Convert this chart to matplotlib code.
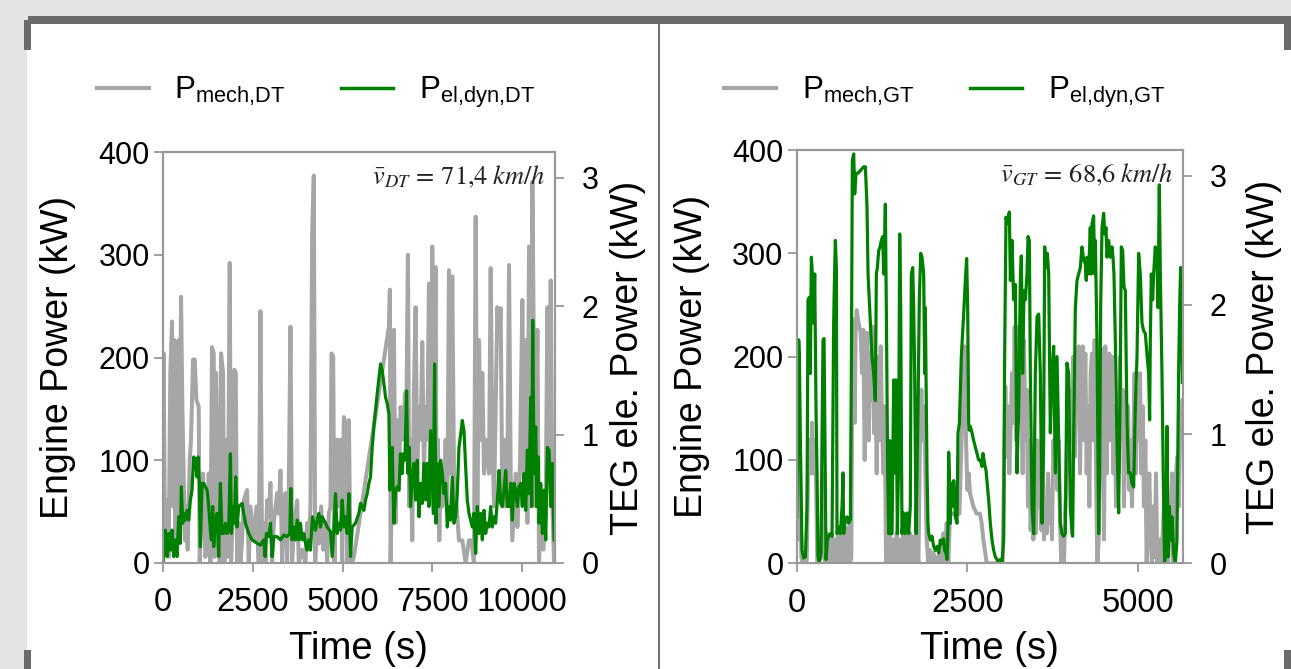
import matplotlib
matplotlib.use('Agg')
import matplotlib.pyplot as plt
from matplotlib.patches import Rectangle
from matplotlib.lines import Line2D

# ---------------- data ----------------
# Drive-cycle DT: engine mechanical power (kW) vs time (s)
dt_mech_pts = [
    (0, 0), (19, 204), (56, 22), (111, 61), (158, 6), (204, 185), (251, 235), (279, 55), (316, 217), (344, 22),
    (390, 185), (437, 217), (464, 39), (502, 259), (539, 152), (576, 87), (613, 22), (650, 55), (687, 13), (743, 100),
    (780, 120), (836, 198), (883, 198), (929, 159), (994, 152), (1022, 0), (1059, 39), (1115, 87), (1180, 6), (1226, 16),
    (1273, 87), (1319, 0), (1366, 210), (1412, 204), (1440, 6), (1477, 185), (1533, 55), (1579, 0), (1616, 204), (1672, 185),
    (1709, 0), (1765, 120), (1802, 6), (1858, 292), (1895, 0), (1951, 55), (1988, 188), (2025, 185), (2062, 0), (2109, 39),
    (2155, 0), (2202, 22), (2248, 61), (2341, 71), (2388, 0), (2434, 55), (2527, 22), (2601, 55), (2666, 0), (2713, 245),
    (2759, 0), (2806, 39), (2852, 0), (2898, 61), (2945, 45), (2991, 78), (3038, 0), (3084, 39), (3177, 68), (3224, 48),
    (3270, 90), (3317, 0), (3363, 55), (3409, 68), (3456, 0), (3502, 71), (3549, 230), (3595, 0), (3642, 32), (3735, 61),
    (3781, 0), (3874, 13), (3967, 0), (4013, 39), (4060, 22), (4106, 55), (4153, 321), (4199, 377), (4236, 0), (4292, 39),
    (4338, 19), (4403, 55), (4459, 13), (4524, 39), (4571, 0), (4617, 48), (4664, 55), (4691, 204), (4738, 201), (4775, 0),
    (4812, 94), (4849, 120), (4896, 55), (4942, 120), (4989, 0), (5035, 142), (5082, 136), (5128, 0), (5175, 139), (5221, 0),
    (5267, 0), (5314, 6), (6290, 230), (6317, 266), (6336, 0), (6382, 87), (6429, 227), (6475, 39), (6522, 139), (6568, 71),
    (6614, 152), (6689, 120), (6735, 165), (6782, 168), (6819, 300), (6856, 55), (6893, 120), (6940, 22), (6986, 168), (7033, 249),
    (7079, 87), (7125, 152), (7172, 120), (7218, 215), (7265, 87), (7311, 152), (7358, 120), (7404, 272), (7450, 87), (7497, 308),
    (7544, 152), (7590, 288), (7618, 55), (7655, 120), (7692, 22), (7729, 87), (7776, 55), (7822, 71), (7869, 120), (7915, 55),
    (7962, 285), (8008, 87), (8054, 279), (8101, 87), (8175, 55), (8240, 22), (8333, 22), (8426, 0), (8519, 22), (8584, 22),
    (8658, 0), (8705, 337), (8751, 39), (8798, 217), (8844, 120), (8891, 185), (8937, 87), (8983, 120), (9076, 87), (9123, 287),
    (9169, 120), (9216, 55), (9309, 249), (9355, 217), (9401, 248), (9448, 55), (9494, 120), (9541, 55), (9587, 87), (9634, 290),
    (9680, 87), (9726, 22), (9773, 55), (9819, 87), (9866, 35), (9940, 97), (10005, 256), (10052, 71), (10098, 217), (10145, 39),
    (10191, 308), (10219, 87), (10256, 55), (10284, 371), (10330, 185), (10377, 55), (10423, 227), (10470, 0), (10516, 55), (10591, 13),
    (10656, 55), (10702, 249), (10749, 87), (10795, 275), (10842, 55), (10888, 0),
]

# Drive-cycle DT: TEG electrical power (kW) vs time (s)
dt_el_pts = [
    (0, 0), (65, 0.256), (111, 0.05), (158, 0.23), (204, 0.10), (251, 0.256), (297, 0.05), (344, 0.18), (390, 0.05), (437, 0.36),
    (483, 0.153), (511, 0.593), (548, 0.31), (576, 0.386), (622, 0.334), (669, 0.41), (715, 0.334), (762, 0.49), (808, 0.567), (855, 0.826),
    (901, 0.80), (948, 0.67), (975, 0.826), (1013, 0.62), (1040, 0.127), (1087, 0.62), (1133, 0.62), (1226, 0.567), (1273, 0.44), (1319, 0.256),
    (1347, 0.18), (1384, 0.44), (1412, 0.127), (1459, 0.334), (1505, 0.386), (1551, 0.05), (1598, 0.62), (1644, 0.23), (1691, 0.23), (1737, 0.31),
    (1784, 0.23), (1830, 0.256), (1877, 0.85), (1904, 0.23), (1951, 0.44), (1988, 0.31), (2025, 0.67), (2062, 0.28), (2109, 0.44), (2202, 0.464),
    (2295, 0.31), (2388, 0.23), (2480, 0.18), (2620, 0.153), (2713, 0.14), (2806, 0.18), (2843, 0.05), (2880, 0.23), (2945, 0.205), (2991, 0.31),
    (3038, 0.05), (3084, 0.205), (3177, 0.205), (3270, 0.18), (3363, 0.218), (3456, 0.205), (3530, 0.23), (3558, 0.58), (3595, 0.18), (3642, 0.28),
    (3688, 0.18), (3735, 0.334), (3781, 0.18), (3827, 0.31), (3874, 0.18), (3920, 0.23), (3967, 0.153), (4013, 0.10), (4060, 0.18), (4106, 0.10),
    (4162, 0.36), (4199, 0.31), (4245, 0.256), (4292, 0.334), (4338, 0.386), (4385, 0.28), (4431, 0.36), (4478, 0.334), (4524, 0.31), (4571, 0.28),
    (4664, 0.244), (4710, 0.05), (4756, 0.256), (4803, 0.54), (4849, 0.23), (4896, 0.31), (4942, 0.256), (4989, 0.49), (5035, 0.28), (5082, 0.36),
    (5128, 0.23), (5175, 0.54), (5221, 0.05), (5267, 0.28), (5360, 0.31), (5453, 0.386), (5500, 0.464), (5546, 0.44), (5593, 0.41), (5639, 0.49),
    (5685, 0.54), (5732, 0.62), (5778, 0.67), (5825, 0.90), (5871, 1.06), (5964, 1.32), (6057, 1.55), (6103, 1.50), (6150, 1.40), (6196, 1.29),
    (6243, 1.24), (6290, 1.16), (6317, 0.567), (6336, 0.645), (6382, 0.90), (6429, 0.31), (6475, 0.567), (6522, 0.593), (6568, 0.567), (6614, 0.85),
    (6660, 0.697), (6689, 0.85), (6735, 0.80), (6782, 1.34), (6819, 0.697), (6856, 0.90), (6893, 0.44), (6940, 0.67), (6986, 0.775), (7033, 0.49),
    (7079, 0.80), (7125, 0.36), (7172, 0.62), (7218, 0.464), (7265, 0.775), (7311, 0.49), (7358, 0.775), (7404, 0.44), (7450, 1.03), (7525, 0.386),
    (7562, 1.55), (7599, 0.31), (7636, 0.775), (7683, 0.44), (7729, 0.80), (7776, 0.697), (7822, 0.54), (7869, 0.62), (7915, 0.28), (7962, 0.44),
    (8008, 0.334), (8054, 0.67), (8101, 0.31), (8147, 0.36), (8194, 0.54), (8240, 0.90), (8287, 1.00), (8333, 1.11), (8380, 1.03), (8426, 0.75),
    (8472, 0.49), (8519, 0.386), (8565, 0.334), (8612, 0.28), (8658, 0.386), (8705, 0.075), (8751, 0.44), (8798, 0.23), (8844, 0.386), (8891, 0.18),
    (8937, 0.41), (8983, 0.23), (9030, 0.31), (9076, 0.28), (9123, 0.44), (9169, 0.28), (9216, 0.36), (9262, 0.31), (9309, 0.49), (9355, 0.72),
    (9401, 0.464), (9448, 0.44), (9494, 0.567), (9541, 0.72), (9587, 0.44), (9634, 0.44), (9680, 0.62), (9726, 0.334), (9773, 0.62), (9819, 0.567),
    (9866, 0.44), (9912, 0.593), (9959, 0.62), (10005, 0.44), (10052, 0.697), (10098, 0.41), (10145, 0.878), (10191, 0.54), (10237, 1.29), (10265, 0.44),
    (10293, 1.89), (10330, 0.697), (10377, 1.06), (10405, 0.44), (10442, 0.826), (10470, 0.31), (10516, 0.62), (10563, 0.23), (10609, 0.567), (10656, 0.18),
    (10702, 0.90), (10749, 0.878), (10795, 0.44), (10842, 0.775), (10888, 0.18),
]

# Drive-cycle GT: engine mechanical power (kW) vs time (s)
gt_mech_pts = [
    (0, 42), (15, 119), (29, 23), (49, 87), (68, 6), (88, 0), (122, 0), (147, 3), (166, 87), (186, 119),
    (205, 87), (225, 136), (244, 87), (264, 119), (283, 81), (303, 0), (362, 6), (381, 87), (401, 71), (420, 0),
    (440, 29), (459, 0), (479, 23), (498, 0), (518, 29), (538, 0), (562, 23), (586, 0), (611, 29), (635, 0),
    (660, 26), (684, 0), (709, 29), (733, 0), (757, 35), (782, 0), (801, 6), (816, 216), (831, 236), (850, 136),
    (865, 229), (880, 245), (899, 236), (919, 229), (938, 223), (958, 184), (977, 226), (997, 100), (1017, 216), (1036, 223),
    (1056, 119), (1075, 203), (1095, 158), (1114, 229), (1134, 126), (1153, 184), (1173, 87), (1192, 200), (1212, 119), (1232, 210),
    (1251, 136), (1271, 87), (1290, 152), (1310, 0), (1329, 29), (1349, 0), (1368, 29), (1393, 0), (1417, 23), (1442, 0),
    (1466, 29), (1491, 0), (1515, 23), (1539, 0), (1564, 29), (1588, 0), (1613, 26), (1637, 0), (1662, 29), (1686, 0),
    (1710, 26), (1735, 0), (1759, 29), (1784, 0), (1808, 119), (1828, 168), (1847, 119), (1867, 152), (1886, 87), (1906, 23),
    (1930, 0), (1955, 13), (1979, 0), (2004, 10), (2028, 0), (2053, 6), (2077, 0), (2101, 13), (2126, 0), (2150, 29),
    (2175, 0), (2199, 39), (2224, 0), (2248, 48), (2385, 48), (2404, 87), (2424, 136), (2444, 184), (2463, 210), (2483, 119),
    (2502, 71), (2522, 87), (2541, 68), (2590, 55), (2639, 48), (2688, 48), (2712, 39), (2737, 23), (2786, 0), (3020, 0),
    (3040, 87), (3059, 171), (3079, 103), (3098, 152), (3118, 87), (3137, 132), (3157, 184), (3177, 136), (3196, 229), (3216, 119),
    (3235, 200), (3255, 229), (3274, 136), (3294, 184), (3313, 87), (3333, 216), (3353, 119), (3372, 168), (3392, 55), (3411, 119),
    (3431, 32), (3450, 103), (3470, 23), (3489, 87), (3509, 29), (3528, 119), (3548, 55), (3568, 87), (3587, 32), (3607, 103),
    (3626, 23), (3646, 55), (3665, 29), (3685, 87), (3704, 39), (3724, 71), (3743, 23), (3763, 119), (3783, 87), (3802, 152),
    (3822, 71), (3841, 119), (3861, 39), (3880, 0), (3900, 23), (3919, 0), (3939, 55), (3958, 87), (3978, 184), (3998, 87),
    (4017, 168), (4037, 119), (4056, 200), (4076, 103), (4095, 184), (4115, 152), (4134, 210), (4154, 87), (4174, 184), (4193, 210),
    (4213, 119), (4232, 203), (4252, 87), (4271, 152), (4291, 55), (4310, 184), (4330, 203), (4350, 119), (4369, 216), (4389, 87),
    (4408, 0), (4428, 23), (4447, 119), (4467, 87), (4486, 207), (4506, 23), (4525, 210), (4545, 87), (4564, 184), (4584, 203),
    (4604, 119), (4623, 200), (4643, 87), (4662, 152), (4682, 55), (4701, 119), (4721, 87), (4740, 200), (4760, 119), (4780, 168),
    (4799, 55), (4819, 119), (4838, 87), (4858, 152), (4877, 71), (4897, 119), (4916, 55), (4936, 119), (4955, 184), (4975, 87),
    (4994, 168), (5014, 119), (5034, 184), (5053, 87), (5073, 152), (5092, 55), (5112, 119), (5131, 0), (5151, 39), (5170, 87),
    (5190, 23), (5210, 0), (5229, 55), (5249, 6), (5268, 87), (5288, 0), (5327, 23), (5346, 0), (5386, 55), (5405, 0),
    (5425, 39), (5444, 0), (5464, 23), (5483, 55), (5503, 87), (5522, 0), (5542, 55), (5562, 87), (5581, 103), (5601, 55),
    (5620, 119), (5640, 152), (5655, 158),
]

# Drive-cycle GT: TEG electrical power (kW) vs time (s)
gt_el_pts = [
    (0, 0.36), (29, 1.73), (39, 1.60), (54, 0.95), (78, 0.10), (103, 0.04), (127, 0.05), (151, 0.44), (166, 2.04), (186, 2.06),
    (200, 1.47), (215, 2.37), (235, 2.19), (249, 1.86), (264, 2.24), (283, 1.21), (298, 0.70), (313, 0.05), (332, 0.01), (357, 0.08),
    (371, 0.95), (386, 1.73), (401, 1.74), (415, 0.95), (430, 0.03), (450, 0.18), (469, 0.21), (494, 0.23), (518, 0.21), (542, 1.86),
    (557, 2.29), (567, 2.50), (582, 2.29), (591, 0.23), (616, 0.28), (640, 0.23), (665, 0.44), (679, 0.70), (689, 0.23), (714, 0.34),
    (738, 0.36), (762, 0.31), (787, 0.34), (801, 1.47), (816, 3.12), (836, 3.17), (850, 2.86), (870, 3.02), (899, 3.02), (933, 3.04),
    (982, 3.07), (1007, 3.07), (1031, 2.76), (1046, 2.24), (1080, 1.86), (1104, 1.60), (1129, 1.47), (1153, 1.26), (1168, 2.24), (1183, 2.29),
    (1202, 2.42), (1222, 2.45), (1241, 2.50), (1261, 2.53), (1276, 2.24), (1300, 2.78), (1315, 1.93), (1334, 0.70), (1349, 0.23), (1363, 0.95),
    (1378, 0.23), (1398, 0.23), (1422, 1.42), (1437, 0.70), (1456, 1.42), (1476, 0.23), (1495, 0.82), (1510, 2.55), (1525, 1.98), (1544, 0.23),
    (1569, 0.39), (1593, 0.23), (1618, 0.39), (1642, 0.23), (1666, 0.44), (1681, 2.24), (1701, 2.29), (1715, 1.98), (1730, 1.47), (1750, 0.23),
    (1779, 1.21), (1798, 2.04), (1818, 2.40), (1838, 2.37), (1862, 2.24), (1877, 1.47), (1886, 1.98), (1901, 1.21), (1911, 0.70), (1925, 0.31),
    (1935, 0.23), (1960, 0.18), (1984, 0.21), (2009, 0.13), (2033, 0.10), (2057, 0.13), (2082, 0.08), (2106, 0.18), (2131, 0.15), (2155, 0.19),
    (2170, 0.10), (2189, 0.08), (2204, 0.03), (2219, 0.28), (2228, 0.86), (2238, 0.70), (2253, 0.31), (2268, 0.62), (2277, 0.44), (2302, 0.64),
    (2316, 0.54), (2326, 0.36), (2351, 0.31), (2365, 1.01), (2385, 1.08), (2414, 1.60), (2448, 1.93), (2473, 2.19), (2492, 2.36), (2507, 1.98),
    (2522, 1.08), (2531, 1.03), (2546, 1.06), (2571, 1.01), (2595, 0.95), (2619, 0.90), (2644, 0.85), (2668, 0.80), (2693, 0.80), (2717, 0.75),
    (2732, 0.85), (2756, 0.77), (2776, 0.72), (2815, 0.49), (2839, 0.31), (2864, 0.18), (2888, 0.10), (2913, 0.05), (2937, 0.03), (2962, 0.0),
    (2986, 0.03), (3010, 0.0), (3035, 0.18), (3049, 1.60), (3069, 2.68), (3089, 2.63), (3118, 2.72), (3133, 2.19), (3157, 2.50), (3181, 2.04),
    (3206, 2.16), (3230, 0.70), (3255, 1.21), (3279, 2.19), (3294, 2.38), (3313, 1.47), (3333, 2.11), (3353, 2.04), (3377, 2.24), (3392, 2.53),
    (3411, 2.50), (3426, 1.47), (3450, 0.44), (3475, 0.23), (3499, 1.47), (3524, 1.91), (3548, 1.93), (3572, 1.47), (3597, 0.31), (3621, 0.95),
    (3636, 2.45), (3655, 2.29), (3675, 2.40), (3695, 2.24), (3719, 1.01), (3743, 1.47), (3768, 1.68), (3792, 0.70), (3817, 1.60), (3841, 0.95),
    (3866, 0.31), (3890, 0.23), (3914, 0.21), (3939, 0.23), (3963, 1.55), (3988, 1.47), (4012, 0.44), (4037, 0.23), (4046, 0.21), (4061, 0.95),
    (4086, 1.98), (4110, 2.19), (4134, 2.24), (4159, 2.29), (4183, 2.45), (4208, 2.35), (4232, 2.32), (4246, 2.19), (4256, 2.37), (4281, 2.24),
    (4305, 2.60), (4320, 2.24), (4330, 2.63), (4354, 2.69), (4369, 2.24), (4379, 2.50), (4403, 1.73), (4428, 0.23), (4442, 0.70), (4457, 1.98),
    (4477, 2.60), (4501, 2.71), (4516, 2.55), (4535, 2.60), (4550, 2.37), (4574, 2.50), (4599, 2.37), (4623, 2.45), (4638, 2.37), (4652, 2.24),
    (4672, 1.73), (4696, 0.95), (4721, 0.39), (4745, 1.47), (4760, 2.45), (4780, 2.42), (4799, 2.14), (4819, 2.11), (4843, 1.08), (4868, 0.70),
    (4892, 0.70), (4916, 0.62), (4941, 0.59), (4965, 1.21), (4990, 1.60), (5014, 2.40), (5038, 2.24), (5063, 1.86), (5087, 1.80), (5112, 1.78),
    (5136, 1.62), (5161, 1.47), (5175, 1.11), (5185, 1.73), (5200, 2.24), (5219, 2.04), (5234, 2.24), (5258, 2.45), (5283, 2.37), (5298, 1.98),
    (5317, 2.93), (5332, 2.24), (5356, 1.47), (5381, 0.44), (5395, 0.0), (5415, 0.18), (5430, 1.06), (5444, 0.05), (5464, 0.44), (5483, 0.18),
    (5503, 0.36), (5527, 0.08), (5552, 0.0), (5576, 0.18), (5600, 1.47), (5615, 1.98), (5630, 2.29), (5640, 1.98), (5655, 1.40),
]

engine_ticks = [0, 100, 200, 300, 400]
teg_ticks = [0, 1, 2, 3]
dt_time_ticks = [0, 2500, 5000, 7500, 10000]
gt_time_ticks = [0, 2500, 5000]
dt_labels = [r'P$_{\mathregular{mech{,}DT}}$', r'P$_{\mathregular{el{,}dyn{,}DT}}$']
gt_labels = [r'P$_{\mathregular{mech{,}GT}}$', r'P$_{\mathregular{el{,}dyn{,}GT}}$']
dt_note = r'$\bar{v}_{DT}\,=\,71{,}4\;km/h$'
gt_note = r'$\bar{v}_{GT}\,=\,68{,}6\;km/h$'

# ---------------- styling ----------------
plt.rcParams['font.family'] = ['Liberation Sans', 'DejaVu Sans']
plt.rcParams['mathtext.fontset'] = 'stix'

W, H = 1291, 669
GRAY = '#a6a6a6'
GREEN = '#008000'
SPINE = '#999999'

fig = plt.figure(figsize=(W / 100, H / 100), dpi=100, facecolor='#e4e4e4')


def deco(x0, y0, x1, y1, color):
    fig.patches.append(Rectangle((x0 / W, 1 - y1 / H), (x1 - x0) / W, (y1 - y0) / H,
                                 transform=fig.transFigure, facecolor=color,
                                 edgecolor='none', zorder=-10))


deco(27, 24, W, H, 'white')
deco(28, 16, W, 24, '#6b6b6b')
deco(24, 20, 31, 50, '#6b6b6b')
deco(1284, 20, W, 50, '#6b6b6b')
deco(24, 650, 31, H, '#6b6b6b')
deco(1284, 650, W, H, '#6b6b6b')
deco(658, 24, 660.5, H, '#707070')


def panel(rect, mech, el, xmax, xticks, labels, note, legend_center, rpad):
    ax = fig.add_axes(rect)
    axr = ax.twinx()
    ax.patch.set_alpha(0)
    t, v = zip(*mech)
    ax.plot(t, v, color=GRAY, lw=2.9, solid_joinstyle='round')
    t2, v2 = zip(*el)
    axr.plot(t2, v2, color=GREEN, lw=2.3, solid_joinstyle='round')
    ax.set_xlim(0, xmax)
    ax.set_ylim(0, 400)
    axr.set_ylim(0, 3.2)
    ax.set_xticks(xticks)
    ax.set_yticks(engine_ticks)
    axr.set_yticks(teg_ticks)
    for a in (ax, axr):
        for sp in a.spines.values():
            sp.set_color(SPINE)
            sp.set_linewidth(1.5)
    ax.tick_params(axis='x', direction='out', length=6.5, width=1.3, color=SPINE,
                   labelsize=23.5, pad=11, labelcolor='black')
    ax.tick_params(axis='y', direction='out', length=6.5, width=1.3, color=SPINE,
                   labelsize=22, pad=3, labelcolor='black')
    axr.tick_params(axis='y', direction='out', length=6.5, width=1.3, color=SPINE,
                    labelsize=22, pad=13, labelcolor='black')
    ax.set_xlabel('Time (s)', fontsize=27.5, labelpad=9)
    ax.set_ylabel('Engine Power (kW)', fontsize=27, labelpad=16)
    axr.set_ylabel('TEG ele. Power (kW)', fontsize=27, labelpad=rpad)
    axr.text(0.975, 0.94, note, transform=axr.transAxes, ha='right', va='center',
             fontsize=19, color='#222222')
    handles = [Line2D([], [], color=GRAY, lw=3), Line2D([], [], color=GREEN, lw=2.5)]
    fig.legend(handles, labels, loc='center', bbox_to_anchor=legend_center,
               bbox_transform=fig.transFigure, ncol=2, frameon=False, fontsize=22.5,
               handlelength=1.66, handletextpad=0.83, columnspacing=1.76)
    return ax, axr


panel([163 / W, 1 - 563 / H, (554.5 - 163) / W, (563 - 152) / H],
      dt_mech_pts, dt_el_pts, 10900, dt_time_ticks, dt_labels, dt_note,
      (316 / W, 1 - 92 / H), 8)
panel([796.7 / W, 1 - 563.3 / H, (1182.7 - 796.7) / W, (563.3 - 150) / H],
      gt_mech_pts, gt_el_pts, 5660, gt_time_ticks, gt_labels, gt_note,
      (945 / W, 1 - 92 / H), 14)

fig.savefig('out.png', dpi=100, facecolor=fig.get_facecolor())
